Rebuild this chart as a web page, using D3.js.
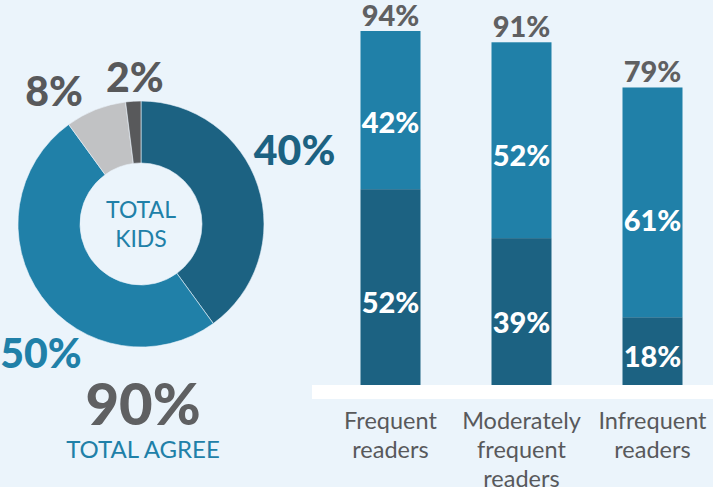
<!DOCTYPE html>
<html><head><meta charset="utf-8">
<script src="https://cdn.jsdelivr.net/npm/d3@7"></script>
<style>
html,body{margin:0;padding:0;background:#ebf4fb;}
svg{display:block;font-family:Lato,"Open Sans",sans-serif;}
</style></head>
<body><svg id="c" width="713" height="487"></svg>
<script>
// Donut data
const donutLabels = ["40%", "50%", "8%", "2%"];
const donutValues = [40, 50, 8, 2];
const donutColors = ["#1c6282", "#2080a8", "#c1c2c4", "#58595b"];
const donutLabelColors = ["#1c6282", "#2080a8", "#58595b", "#58595b"];
const totalValue = "90%";

// Bar data
const categories = [["Frequent", "readers"], ["Moderately", "frequent", "readers"], ["Infrequent", "readers"]];
const bottomValues = [52, 39, 18];
const topValues = [42, 52, 61];
const totals = [94, 91, 79];

const svg = d3.select("#c");
const W = 713, H = 487;

// ---------- Donut ----------
const cx = 141, cy = 224, rOuter = 123, rInner = 61;
const pie = d3.pie().sort(null).value(d => d);
const arcs = pie(donutValues);
const arc = d3.arc().innerRadius(rInner).outerRadius(rOuter);
const g = svg.append("g").attr("transform", `translate(${cx},${cy})`);
g.selectAll("path").data(arcs).enter().append("path")
  .attr("d", arc)
  .attr("fill", (d, i) => donutColors[i])
  .attr("stroke", "#ebf4fb").attr("stroke-width", 0.6);

// label placement: angle (deg from top) and radius around the donut
const labelPlacement = [[64.6, 170], [217.6, 164], [326.6, 158], [357.6, 146]];
g.selectAll("text.dl").data(arcs).enter().append("text")
  .attr("class", "dl")
  .attr("x", (d, i) => labelPlacement[i][1] * Math.sin(labelPlacement[i][0] * Math.PI / 180))
  .attr("y", (d, i) => -labelPlacement[i][1] * Math.cos(labelPlacement[i][0] * Math.PI / 180) + 14)
  .attr("text-anchor", "middle")
  .attr("font-size", 41).attr("font-weight", 900)
  .attr("fill", (d, i) => donutLabelColors[i])
  .text((d, i) => donutLabels[i]);

g.append("text").attr("x", 0).attr("y", -6).attr("text-anchor", "middle")
  .attr("font-size", 23).attr("fill", "#2080a8").text("TOTAL");
g.append("text").attr("x", 0).attr("y", 23).attr("text-anchor", "middle")
  .attr("font-size", 23).attr("fill", "#2080a8").text("KIDS");

svg.append("text").attr("x", 143).attr("y", 425).attr("text-anchor", "middle")
  .attr("font-size", 58).attr("font-weight", 900).attr("fill", "#5f6062").text(totalValue);
svg.append("text").attr("x", 143).attr("y", 458).attr("text-anchor", "middle")
  .attr("font-size", 24).attr("fill", "#2080a8").text("TOTAL AGREE");

// ---------- Bars ----------
const x = d3.scaleBand().domain(d3.range(categories.length))
  .range([325, 718]).paddingInner(0.542).paddingOuter(0.271);
const y = d3.scaleLinear().domain([0, 100]).range([385, 8.4]);

// baseline band
svg.append("rect").attr("x", 312).attr("y", y(0)).attr("width", W - 312).attr("height", 14).attr("fill", "#ffffff");

const bars = svg.append("g");
bars.selectAll("rect.b").data(bottomValues).enter().append("rect")
  .attr("x", (d, i) => x(i)).attr("width", x.bandwidth())
  .attr("y", d => y(d)).attr("height", d => y(0) - y(d))
  .attr("fill", "#1c6282");
bars.selectAll("rect.t").data(topValues).enter().append("rect")
  .attr("x", (d, i) => x(i)).attr("width", x.bandwidth())
  .attr("y", (d, i) => y(totals[i])).attr("height", (d, i) => y(bottomValues[i]) - y(totals[i]))
  .attr("fill", "#2080a8");

const segLabel = (top, bot) => y(top) + (y(bot) - y(top)) * 0.58 + 10;
bars.selectAll("text.bl").data(bottomValues).enter().append("text")
  .attr("x", (d, i) => x(i) + x.bandwidth() / 2)
  .attr("y", d => segLabel(d, 0))
  .attr("text-anchor", "middle").attr("font-size", 29).attr("font-weight", 900)
  .attr("fill", "#ffffff").text(d => d + "%");
bars.selectAll("text.tl").data(topValues).enter().append("text")
  .attr("x", (d, i) => x(i) + x.bandwidth() / 2)
  .attr("y", (d, i) => segLabel(totals[i], bottomValues[i]))
  .attr("text-anchor", "middle").attr("font-size", 29).attr("font-weight", 900)
  .attr("fill", "#ffffff").text(d => d + "%");
bars.selectAll("text.tot").data(totals).enter().append("text")
  .attr("x", (d, i) => x(i) + x.bandwidth() / 2)
  .attr("y", d => y(d) - 5)
  .attr("text-anchor", "middle").attr("font-size", 29).attr("font-weight", 900)
  .attr("fill", "#5f6062").text(d => d + "%");

// category labels
categories.forEach((lines, i) => {
  const t = svg.append("text").attr("text-anchor", "middle")
    .attr("font-size", 23.5).attr("fill", "#58595b");
  lines.forEach((ln, j) => {
    t.append("tspan").attr("x", x(i) + x.bandwidth() / 2).attr("y", 429 + j * 29).text(ln);
  });
});
</script></body></html>
